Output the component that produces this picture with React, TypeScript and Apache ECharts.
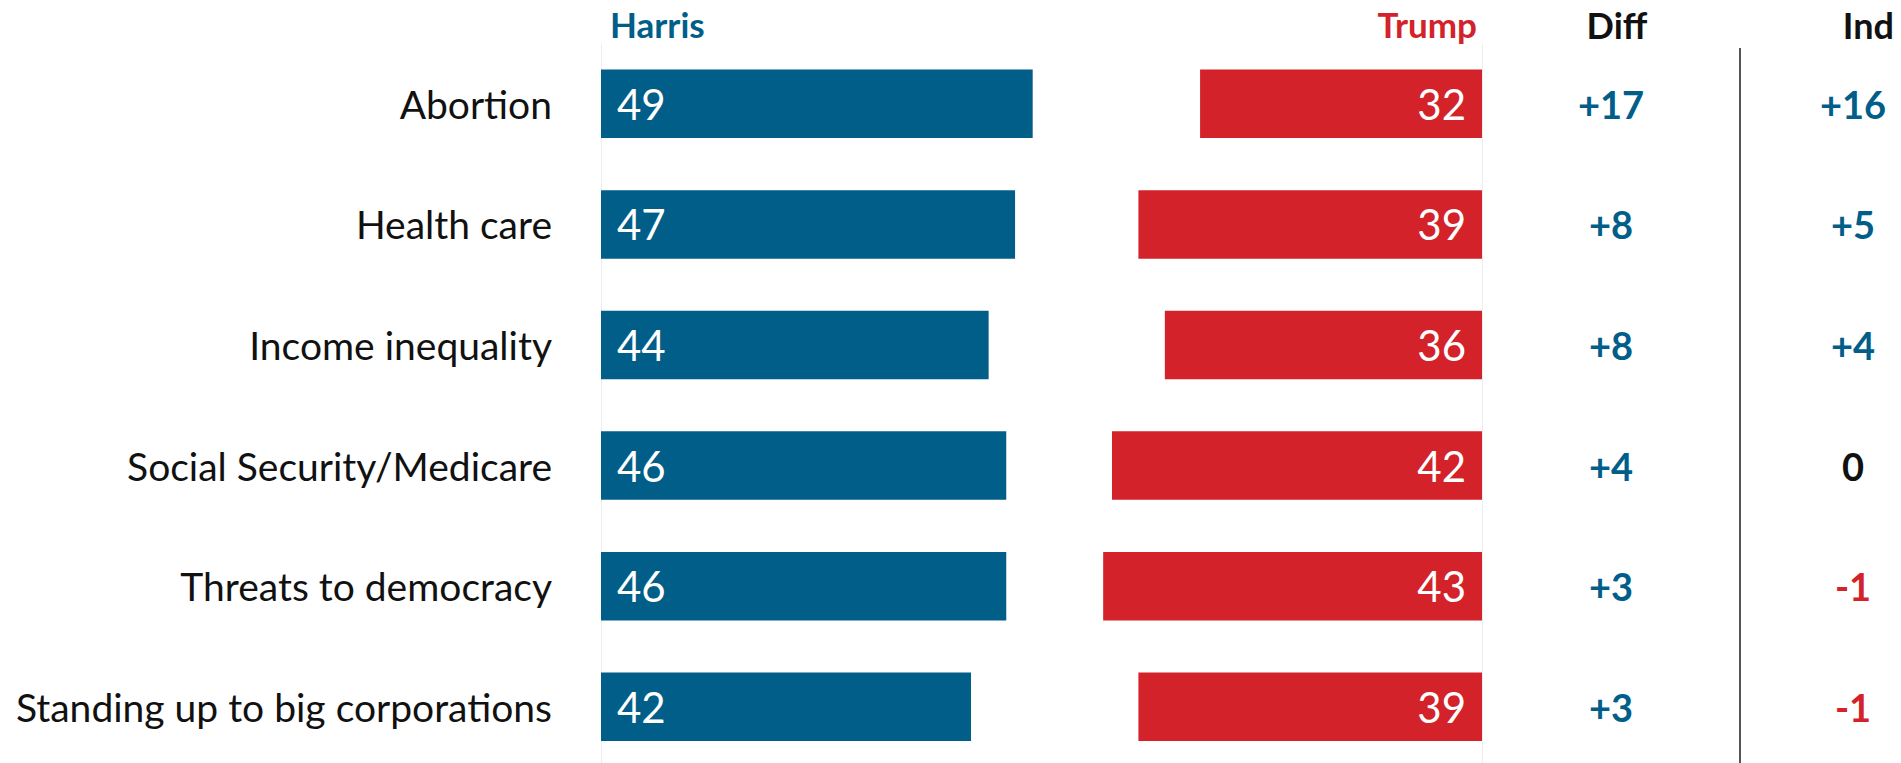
import React, { useEffect, useRef } from "react";
import * as echarts from "echarts";

const categories = [
  "Abortion",
  "Health care",
  "Income inequality",
  "Social Security/Medicare",
  "Threats to democracy",
  "Standing up to big corporations",
];
const harris = [49, 47, 44, 46, 46, 42];
const trump = [32, 39, 36, 42, 43, 39];
const diff = [17, 8, 8, 4, 3, 3];
const ind = [16, 5, 4, 0, -1, -1];
const headers = ["Harris", "Trump", "Diff", "Ind"];

const BLUE = "#015e89";
const RED = "#d3222a";
const FONT = "Lato";

const fmtSigned = (v: number) => (v > 0 ? `{pos|+${v}}` : v < 0 ? `{neg|${v}}` : `{zero|0}`);

const richNums = {
  pos: { color: BLUE, fontWeight: "bold", fontSize: 38, fontFamily: FONT },
  neg: { color: RED, fontWeight: "bold", fontSize: 38, fontFamily: FONT },
  zero: { color: "#111", fontWeight: "bold", fontSize: 38, fontFamily: FONT },
};

export default function App() {
  const ref = useRef<HTMLDivElement>(null);
  useEffect(() => {
    if (!ref.current) return;
    const chart = echarts.init(ref.current, null, { renderer: "svg" });
    const baseY = {
      type: "category",
      inverse: true,
      data: categories,
      axisLine: { show: false },
      axisTick: { show: false },
      splitLine: { show: false },
    };
    chart.setOption({
      animation: false,
      backgroundColor: "#fff",
      grid: { left: 601, right: 419, top: 43.5, bottom: 0, outerBoundsMode: "none" },
      xAxis: [
        {
          type: "value",
          min: 0,
          max: 100,
          interval: 100,
          axisLine: { show: false },
          axisTick: { show: false },
          axisLabel: { show: false },
          splitLine: { show: true, lineStyle: { color: "#ededed", width: 1 } },
        },
        {
          type: "value",
          min: 0,
          max: 100,
          inverse: true,
          axisLine: { show: false },
          axisTick: { show: false },
          axisLabel: { show: false },
          splitLine: { show: false },
        },
      ],
      yAxis: [
        {
          ...baseY,
          position: "left",
          axisLabel: {
            margin: 49,
            color: "#111",
            fontSize: 39,
            fontFamily: FONT,
          },
        },
        {
          ...baseY,
          position: "right",
          axisLabel: {
            margin: 129,
            align: "center",
            formatter: (_v: string, i: number) => fmtSigned(diff[i]),
            rich: richNums,
          },
        },
        {
          ...baseY,
          position: "right",
          axisLabel: {
            margin: 371,
            align: "center",
            formatter: (_v: string, i: number) => fmtSigned(ind[i]),
            rich: richNums,
          },
        },
      ],
      series: [
        {
          name: "Harris",
          type: "bar",
          xAxisIndex: 0,
          yAxisIndex: 0,
          data: harris,
          barWidth: 68.5,
          barGap: "-100%",
          itemStyle: { color: BLUE },
          label: {
            show: true,
            position: "insideLeft",
            distance: 16,
            color: "#fff",
            fontSize: 42,
            fontFamily: FONT,
          },
        },
        {
          name: "Trump",
          type: "bar",
          xAxisIndex: 1,
          yAxisIndex: 0,
          data: trump,
          barWidth: 68.5,
          barGap: "-100%",
          itemStyle: { color: RED },
          label: {
            show: true,
            position: "insideRight",
            distance: 16,
            color: "#fff",
            fontSize: 42,
            fontFamily: FONT,
          },
        },
      ],
      graphic: [
        {
          type: "text",
          left: 610,
          top: 6,
          style: { text: headers[0], fill: BLUE, fontSize: 35, fontWeight: "bold", fontFamily: FONT },
        },
        {
          type: "text",
          right: 1901 - 1477,
          top: 6,
          style: { text: headers[1], fill: RED, fontSize: 35, fontWeight: "bold", fontFamily: FONT },
        },
        {
          type: "text",
          x: 1617,
          y: 25,
          style: {
            text: headers[2],
            fill: "#111",
            fontSize: 36,
            fontWeight: "bold",
            fontFamily: FONT,
            align: "center",
            verticalAlign: "middle",
          },
        },
        {
          type: "text",
          x: 1894,
          y: 25,
          style: {
            text: headers[3],
            fill: "#111",
            fontSize: 36,
            fontWeight: "bold",
            fontFamily: FONT,
            align: "right",
            verticalAlign: "middle",
          },
        },
        {
          type: "line",
          shape: { x1: 1740, y1: 48, x2: 1740, y2: 767 },
          style: { stroke: "#555", lineWidth: 2 },
        },
      ],
    });
    return () => chart.dispose();
  }, []);
  return (
    <div
      style={{ position: "absolute", left: 0, top: 0, width: 1901, height: 763, overflow: "hidden" }}
    >
      <div ref={ref} style={{ width: 1901, height: 767 }} />
    </div>
  );
}
